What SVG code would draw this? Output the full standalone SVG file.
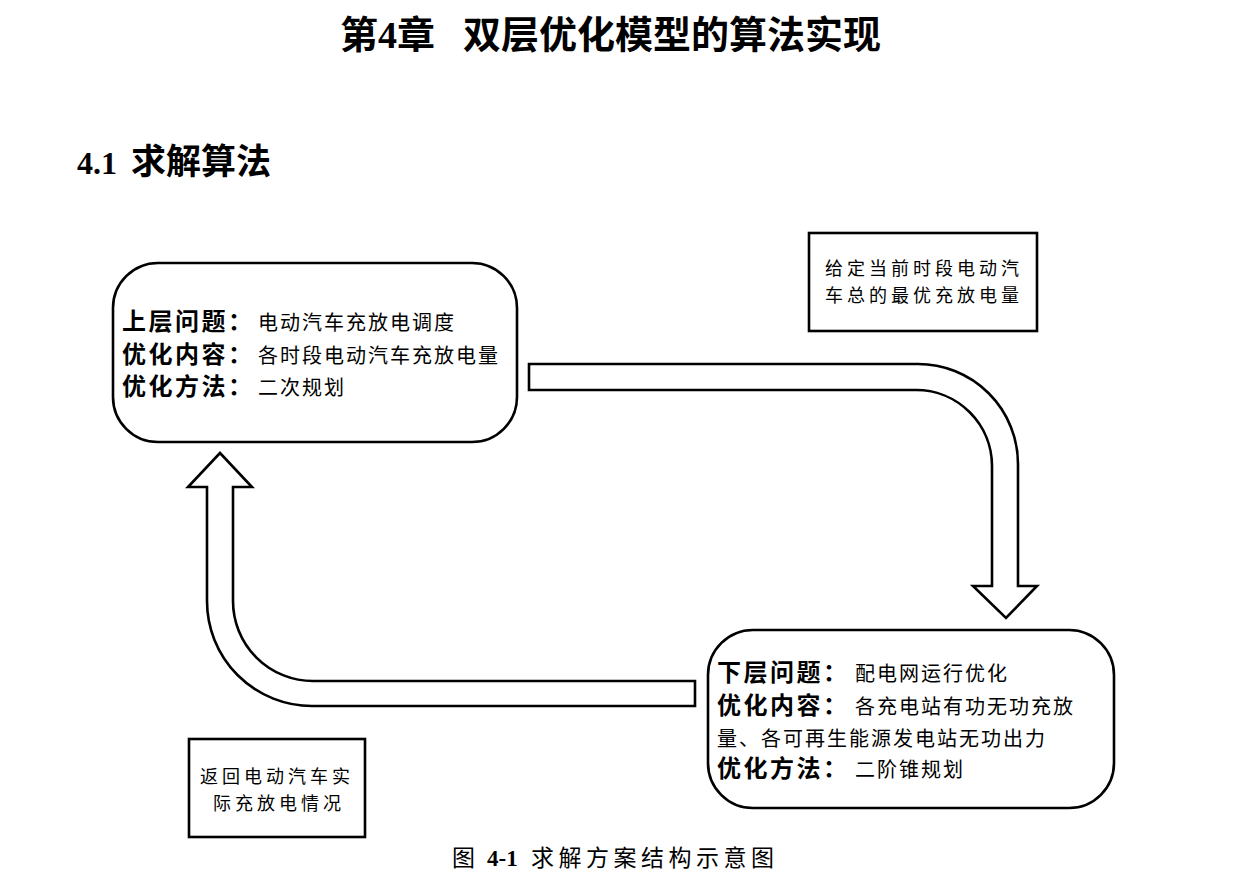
<svg xmlns="http://www.w3.org/2000/svg" width="1243" height="887" viewBox="0 0 1243 887">
<style>
.bg{fill:#ffffff}
.box{fill:#ffffff;stroke:#000000;stroke-width:2.6}
.arrow{fill:#ffffff;stroke:#000000;stroke-width:2.6;stroke-linejoin:miter}
.lbl{font-family:"Noto Sans CJK SC","Noto Sans CJK JP",sans-serif;font-weight:bold;font-size:24px;letter-spacing:2.5px;fill:#000}
.txt{font-family:"Noto Sans CJK SC","Noto Sans CJK JP",sans-serif;font-size:20px;letter-spacing:2px;fill:#000}
.note{font-family:"Noto Sans CJK SC","Noto Sans CJK JP",sans-serif;font-size:18px;letter-spacing:4px;fill:#000}
.title{font-family:"Liberation Serif","Noto Sans CJK SC",serif;font-weight:bold;font-size:38px;fill:#000}
.head{font-family:"Liberation Serif","Noto Sans CJK SC",serif;font-weight:bold;fill:#000}
.cap{font-family:"Liberation Serif","Noto Sans CJK SC",serif;font-size:23px;fill:#000}
</style>
<rect class="bg" x="0" y="0" width="1243" height="887"/>

<g id="title">
  <text class="title" x="340" y="48">第4章<tspan x="463" font-family="Noto Sans CJK SC, sans-serif">双层优化模型的算法实现</tspan></text>
</g>
<g id="heading">
  <text class="head" x="77" y="174" font-size="32">4.1<tspan x="131" font-size="35" font-family="Noto Sans CJK SC, sans-serif">求解算法</tspan></text>
</g>

<g id="connectors">
  <path id="arrow-down" class="arrow" d="M529,364 L918,364 A100,100 0 0 1 1018,464 L1018,586 L1037,586 L1006,618 L973,586 L992,586 L992,466 A76,76 0 0 0 916,390 L529,390 Z"/>
  <path id="arrow-up" class="arrow" d="M695,681 L313,681 A80,80 0 0 1 233,601 L233,487 L252,487 L220,453 L188,487 L207,487 L207,601 A105,105 0 0 0 312,706 L695,706 Z"/>
</g>

<g id="upper">
  <rect class="box" x="113" y="263" width="404" height="179" rx="45" ry="45"/>
  <text class="lbl" x="122" y="330">上层问题：</text>
  <text class="txt" x="258" y="330">电动汽车充放电调度</text>
  <text class="lbl" x="122" y="363">优化内容：</text>
  <text class="txt" x="258" y="363">各时段电动汽车充放电量</text>
  <text class="lbl" x="122" y="395">优化方法：</text>
  <text class="txt" x="258" y="395">二次规划</text>
</g>

<g id="lower">
  <rect class="box" x="708" y="630" width="406" height="178" rx="45" ry="45"/>
  <text class="lbl" x="717" y="681">下层问题：</text>
  <text class="txt" x="855" y="681">配电网运行优化</text>
  <text class="lbl" x="717" y="714">优化内容：</text>
  <text class="txt" x="855" y="714">各充电站有功无功充放</text>
  <text class="txt" x="717" y="746">量、各可再生能源发电站无功出力</text>
  <text class="lbl" x="717" y="777">优化方法：</text>
  <text class="txt" x="855" y="777">二阶锥规划</text>
</g>

<g id="given">
  <rect class="box" x="809" y="233" width="228" height="98"/>
  <text class="note" x="825" y="275">给定当前时段电动汽</text>
  <text class="note" x="825" y="302">车总的最优充放电量</text>
</g>

<g id="return">
  <rect class="box" x="189" y="739" width="176" height="98"/>
  <text class="note" x="200" y="783">返回电动汽车实</text>
  <text class="note" x="213" y="810">际充放电情况</text>
</g>

<g id="caption">
  <text class="cap" x="452" y="866"><tspan font-family="Noto Sans CJK SC, sans-serif">图</tspan><tspan x="487" font-weight="bold">4-1</tspan><tspan x="531" font-family="Noto Sans CJK SC, sans-serif" letter-spacing="4.5">求解方案结构示意图</tspan></text>
</g>
</svg>
